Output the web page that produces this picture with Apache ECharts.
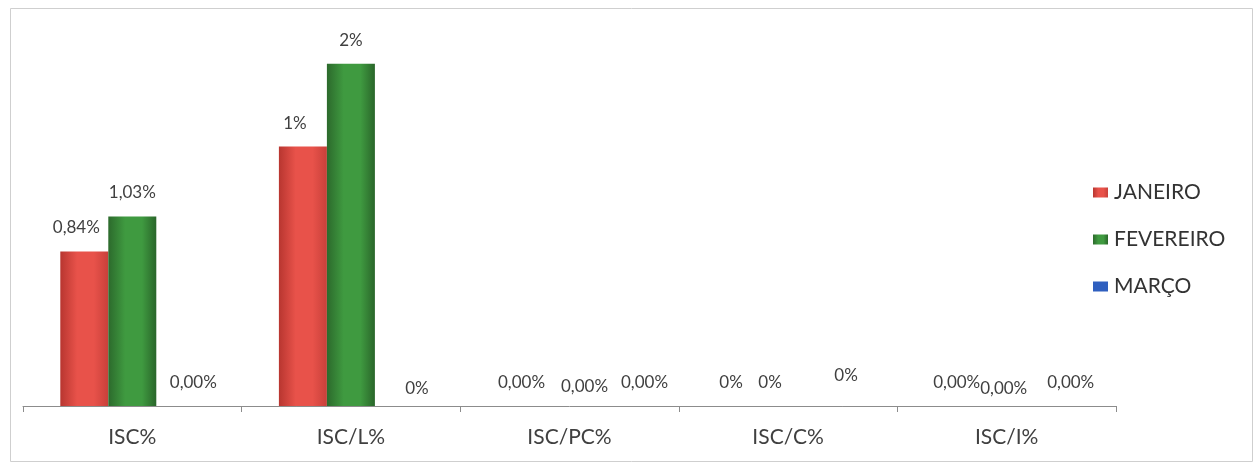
<!DOCTYPE html>
<html>
<head>
<meta charset="utf-8">
<script src="https://cdn.jsdelivr.net/npm/echarts@6/dist/echarts.min.js"></script>
<style>
html,body{margin:0;padding:0;background:#fff;}
#c{width:1260px;height:464px;}
</style>
</head>
<body>
<div id="c"></div>
<script>
const categories = ['ISC%', 'ISC/L%', 'ISC/PC%', 'ISC/C%', 'ISC/I%'];
const seriesNames = ['JANEIRO', 'FEVEREIRO', 'MARÇO'];
const janeiro = [0.84, 1.41, 0, 0, 0];
const fevereiro = [1.03, 1.86, 0, 0, 0];
const marco = [0, 0, 0, 0, 0];
const janeiroLabels = ['0,84%', '1%', '0,00%', '0%', '0,00%'];
const fevereiroLabels = ['1,03%', '2%', '0,00%', '0%', '0,00%'];
const marcoLabels = ['0,00%', '0%', '0,00%', '0%', '0,00%'];

const FONT = 'Lato, "Open Sans", sans-serif';

function grad(edge, mid, edge2) {
  return new echarts.graphic.LinearGradient(0, 0, 1, 0, [
    {offset: 0, color: edge},
    {offset: 0.35, color: mid},
    {offset: 0.7, color: mid},
    {offset: 1, color: edge2}
  ]);
}

// small label nudges to mimic the hand-placed labels of the original
const janOff = [[-8,0],[-8,0],[0,0],[-9,0],[-2,0]];
const fevOff = [[0,0],[0,0],[15,4],[-18,0],[-3,6]];
const marOff = [[13,0],[18,6],[27,0],[10,-7],[16,0]];

function makeData(vals, labels, offs) {
  return vals.map((v, i) => ({
    value: v,
    label: {formatter: labels[i], offset: offs[i]}
  }));
}

const labelBase = {
  show: true, position: 'top', distance: 15,
  color: '#404040', fontSize: 17, fontFamily: FONT
};

const chart = echarts.init(document.getElementById('c'), null, {renderer: 'canvas'});
chart.setOption({
  animation: false,
  backgroundColor: '#fff',
  graphic: [{
    type: 'rect', left: 8, top: 6, silent: true,
    shape: {width: 1242, height: 453},
    style: {fill: 'none', stroke: '#cfcfcf', lineWidth: 1}
  }],
  grid: {left: 23, right: 144, top: 38, bottom: 58},
  legend: {
    orient: 'vertical', left: 1088, top: 177,
    itemWidth: 15, itemHeight: 10, itemGap: 26,
    icon: 'rect',
    textStyle: {fontSize: 21, color: '#333', fontFamily: FONT, padding: [0,0,0,1]},
    data: seriesNames
  },
  xAxis: {
    type: 'category', data: categories,
    axisLine: {lineStyle: {color: '#8c8c8c', width: 1}},
    axisTick: {show: true, length: 6, lineStyle: {color: '#8c8c8c'}},
    axisLabel: {fontSize: 21, color: '#404040', fontFamily: FONT, margin: 21}
  },
  yAxis: {
    type: 'value', min: 0, max: 2, show: false,
    splitLine: {show: false}
  },
  series: [
    {
      name: seriesNames[0], type: 'bar', barWidth: 48, barGap: '0%',
      itemStyle: {color: grad('#b83630', '#e8524a', '#c8403a')},
      label: labelBase,
      data: makeData(janeiro, janeiroLabels, janOff)
    },
    {
      name: seriesNames[1], type: 'bar', barWidth: 48, barGap: '0%',
      itemStyle: {color: grad('#2c6a2c', '#3f9a40', '#2a662a')},
      label: labelBase,
      data: makeData(fevereiro, fevereiroLabels, fevOff)
    },
    {
      name: seriesNames[2], type: 'bar', barWidth: 48, barGap: '0%',
      itemStyle: {color: '#2f5fbf'},
      label: labelBase,
      data: makeData(marco, marcoLabels, marOff)
    }
  ]
});
</script>
</body>
</html>
